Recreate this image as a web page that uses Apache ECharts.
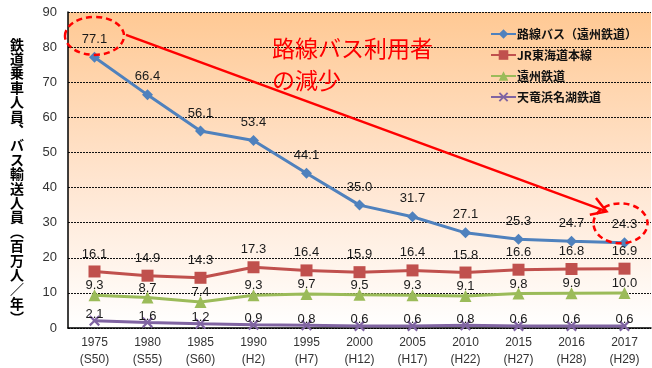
<!DOCTYPE html>
<html><head><meta charset="utf-8">
<script src="https://cdn.jsdelivr.net/npm/echarts@6/dist/echarts.min.js"></script>
<style>html,body{margin:0;padding:0;background:#fff}#c{width:652px;height:368px}</style>
</head><body><div id="c"></div>
<script>
const years = ['1975','1980','1985','1990','1995','2000','2005','2010','2015','2016','2017'];
const eras = ['S50','S55','S60','H2','H7','H12','H17','H22','H27','H28','H29'];
const busValues = [77.1,66.4,56.1,53.4,44.1,35.0,31.7,27.1,25.3,24.7,24.3];
const jrValues = [16.1,14.9,14.3,17.3,16.4,15.9,16.4,15.8,16.6,16.8,16.9];
const enshuValues = [9.3,8.7,7.4,9.3,9.7,9.5,9.3,9.1,9.8,9.9,10.0];
const tenryuValues = [2.1,1.6,1.2,0.9,0.8,0.6,0.6,0.8,0.6,0.6,0.6];
const seriesNames = ['路線バス（遠州鉄道）','JR東海道本線','遠州鉄道','天竜浜名湖鉄道'];
const yAxisTitle = '鉄道乗車人員︑バス輸送人員︵百万人／年︶';
const noteText = '路線バス利用者\nの減少';

const chart = echarts.init(document.getElementById('c'), null, {renderer:'canvas'});
const FONT = '"Liberation Sans", Arial, sans-serif';
const JP = '"Noto Sans CJK JP", sans-serif';
const crossPath = 'path://M0,1.4L1.4,0L5,3.6L8.6,0L10,1.4L6.4,5L10,8.6L8.6,10L5,6.4L1.4,10L0,8.6L3.6,5Z';

function lbl(dist){
  return {show:true, position:'top', distance:dist, fontFamily:FONT, fontSize:13, color:'#1a1a1a',
    formatter: p => p.value.toFixed(1)};
}
function mk(name, data, color, symbol, size, dist){
  return {name, type:'line', data, symbol, symbolSize:size, showSymbol:true,
    lineStyle:{color, width:3}, itemStyle:{color}, label:lbl(dist), z:3,
    emphasis:{disabled:true}, animation:false};
}

const option = {
  animation:false,
  grid:{left:68, top:12, width:583, bottom:38, show:true, borderWidth:0,
    backgroundColor:new echarts.graphic.LinearGradient(0,0,0,1,[
      {offset:0,color:'#FFC994'},{offset:0.55,color:'#FFE6D2'},{offset:1,color:'#FFFFFF'}])},
  legend:{orient:'vertical', left:485, top:23, itemWidth:25, itemHeight:12, itemGap:9,
    data:seriesNames,
    textStyle:{fontFamily:JP, fontSize:12, fontWeight:'bold', color:'#111', padding:[0,0,0,-4]}},
  xAxis:{type:'category', data:years, boundaryGap:true,
    axisLine:{lineStyle:{color:'#000', width:1.5}}, axisTick:{show:false},
    axisLabel:{margin:6, fontFamily:FONT, fontSize:12, color:'#333', lineHeight:17,
      formatter:(v,i)=> v + '\n(' + eras[i] + ')'}},
  yAxis:{type:'value', min:0, max:90, interval:10,
    axisLine:{show:true, lineStyle:{color:'#000', width:1.5}}, axisTick:{show:false},
    axisLabel:{margin:11, fontFamily:FONT, fontSize:13, color:'#333'},
    splitLine:{show:true, lineStyle:{color:'#111', type:[2,1], width:1}}},
  series:[
    mk(seriesNames[0], busValues, '#4F81BD', 'diamond', 11, 6),
    mk(seriesNames[1], jrValues, '#C0504D', 'rect', 12, 5),
    mk(seriesNames[2], enshuValues, '#9BBB59', 'triangle', 12, -3),
    mk(seriesNames[3], tenryuValues, '#8064A2', crossPath, 11, -6)
  ]
};
chart.setOption(option);

// annotations anchored to data coordinates
const p1 = chart.convertToPixel({gridIndex:0}, ['1975', 83.2]);
const p2 = chart.convertToPixel({gridIndex:0}, ['2017', 29.8]);
const e1 = {cx:p1[0], cy:p1[1], rx:29.5, ry:19};
const e2 = {cx:p2[0]-4, cy:p2[1], rx:27, ry:20};
const start = [e1.cx + e1.rx + 2, e1.cy - 1];
const tip = [e2.cx - 14, e2.cy - 12];
const ang = Math.atan2(tip[1]-start[1], tip[0]-start[0]);
const L = 17, spread = 0.55;
const a1 = [tip[0] - L*Math.cos(ang-spread), tip[1] - L*Math.sin(ang-spread)];
const a2 = [tip[0] - L*Math.cos(ang+spread), tip[1] - L*Math.sin(ang+spread)];
const red = '#FF0000';
const titleTop = chart.convertToPixel({gridIndex:0}, ['1975', 90])[1];
const graphic = [
  {type:'ellipse', shape:e1, style:{fill:null, stroke:red, lineWidth:2.5, lineDash:[6,4]}, z:10},
  {type:'ellipse', shape:e2, style:{fill:null, stroke:red, lineWidth:2.5, lineDash:[6,4]}, z:10},
  {type:'line', shape:{x1:start[0], y1:start[1], x2:tip[0], y2:tip[1]}, style:{stroke:red, lineWidth:2.5}, z:10},
  {type:'polyline', shape:{points:[a1, tip, a2]}, style:{stroke:red, lineWidth:2.5, fill:null}, z:10},
  {type:'text', x:272, y:titleTop + 20, style:{text:noteText, fill:red, font:'23px "Noto Sans CJK JP", sans-serif', lineHeight:32, textVerticalAlign:'top'}, z:10},
  {type:'text', x:17, y:37, style:{text:yAxisTitle.split('').join('\n'), fill:'#000', font:'bold 14px "Noto Sans CJK JP", sans-serif', lineHeight:14.4, align:'center', verticalAlign:'top'}, z:10}
];
chart.setOption({graphic});
</script></body></html>
